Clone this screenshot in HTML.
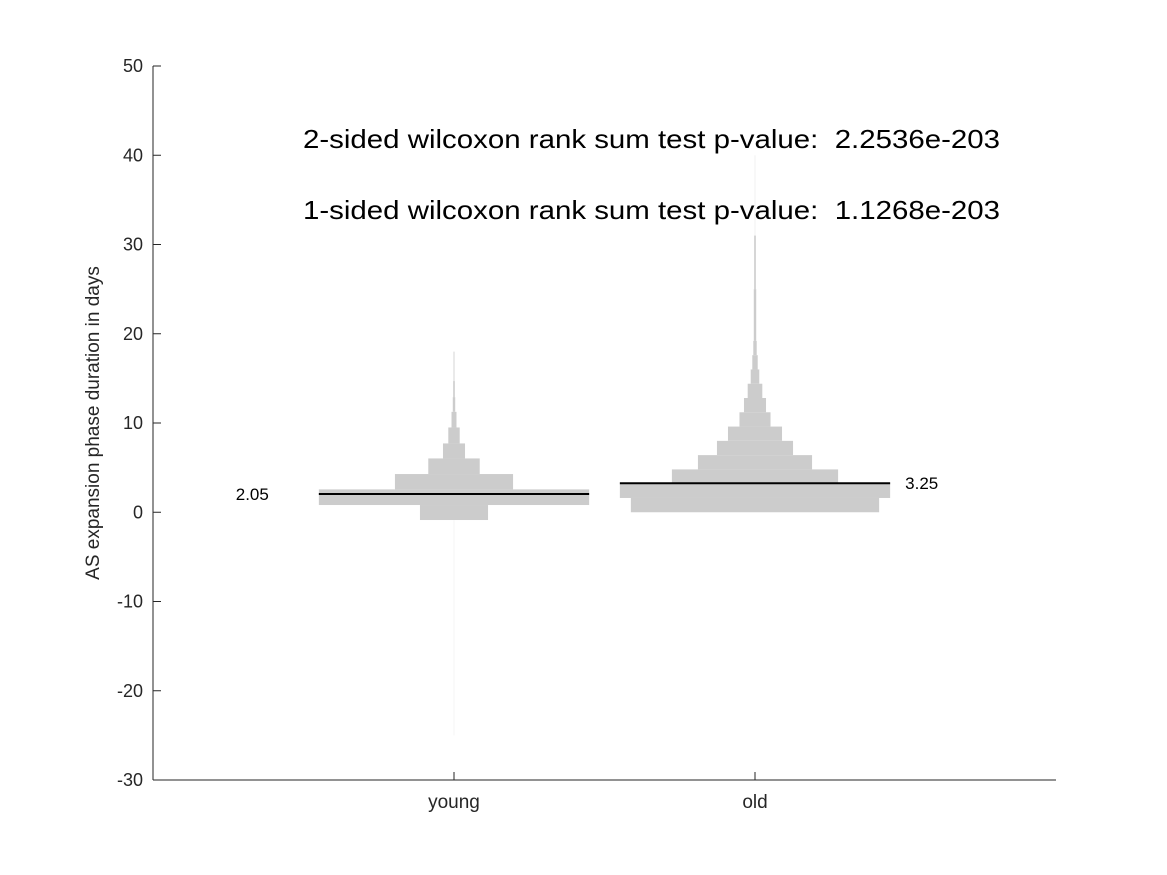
<!DOCTYPE html>
<html><head><meta charset="utf-8"><style>
html,body{margin:0;padding:0;background:#fff;}
svg{display:block;font-family:"Liberation Sans",Helvetica,Arial,sans-serif;}
</style></head><body>
<svg id="chart" width="1167" height="875" viewBox="0 0 1167 875" xmlns="http://www.w3.org/2000/svg">
<rect width="1167" height="875" fill="#fff"/>
<g id="marks"></g>
<g id="axes"></g>
<text x="303" y="148" font-size="26" fill="#000" textLength="697" lengthAdjust="spacingAndGlyphs" style="white-space:pre">2-sided wilcoxon rank sum test p-value:  2.2536e-203</text>
<text x="303" y="219" font-size="26" fill="#000" textLength="697" lengthAdjust="spacingAndGlyphs" style="white-space:pre">1-sided wilcoxon rank sum test p-value:  1.1268e-203</text>
<text transform="translate(99,423) rotate(-90)" text-anchor="middle" font-size="19" fill="#262626">AS expansion phase duration in days</text>
</svg>
<script>
const categories = ["young", "old"];
const medians = [2.05, 3.25];
const medianLabels = ["2.05", "3.25"];
const yTicks = [-30, -20, -10, 0, 10, 20, 30, 40, 50];
// young histogram: bin edges (days) and relative widths
const youngEdges = [-0.87, 0.81, 2.56, 4.28, 6.03, 7.71, 9.5, 11.25, 12.9, 14.7, 18];
const youngWidths = [34, 135, 59, 25.7, 11, 5.7, 2.5, 1.2, 0.8, 0.4];
const youngTailEdges = [-25, -0.87];
const youngTailWidths = [0.3];
// old histogram
const oldEdges = [0, 1.6, 3.2, 4.8, 6.4, 8.0, 9.6, 11.2, 12.8, 14.4, 16.0, 17.6, 19.2, 25, 31];
const oldWidths = [124, 135, 83, 57, 38, 27, 15.5, 11, 7.3, 4.3, 2.7, 1.7, 1.2, 0.8];
const oldTailEdges = [31, 40];
const oldTailWidths = [0.4];

const NS = "http://www.w3.org/2000/svg";
const X0 = 153, X1 = 1056, Y0 = 780, Y1 = 66;
const xMin = 0, xMax = 3, yMin = -30, yMax = 50;
function xs(v){ return X0 + (v - xMin) / (xMax - xMin) * (X1 - X0); }
function ys(v){ return Y0 - (v - yMin) / (yMax - yMin) * (Y0 - Y1); }
const maxW = 135;
function ws(w){ return w / maxW * 0.449 * (X1 - X0) / (xMax - xMin); }
function mk(tag, attrs, parent){
  const e = document.createElementNS(NS, tag);
  for (const k in attrs) e.setAttribute(k, attrs[k]);
  parent.appendChild(e); return e;
}
const marks = document.getElementById('marks');
const axes = document.getElementById('axes');

function drawHist(ci, edges, widths, name, fill){
  const cx = xs(ci + 1);
  for (let i = 0; i < widths.length; i++){
    const hw = ws(widths[i]);
    const yt = ys(edges[i+1]), yb = ys(edges[i]);
    const r = mk('rect', {x: cx - hw, y: yt, width: 2*hw, height: yb - yt, fill: fill}, marks);
    
    
  }
}
drawHist(0, youngTailEdges, youngTailWidths, 'young-tail', '#f0f0f0');
drawHist(0, youngEdges, youngWidths, 'young', '#cccccc');
drawHist(1, oldTailEdges, oldTailWidths, 'old-tail', '#eeeeee');
drawHist(1, oldEdges, oldWidths, 'old', '#cccccc');

// median lines
const medHalf = [ws(135), ws(135)];
for (let i = 0; i < categories.length; i++){
  const cx = xs(i + 1), y = ys(medians[i]);
  const l = mk('line', {x1: cx - medHalf[i], x2: cx + medHalf[i], y1: y, y2: y, stroke: '#000', 'stroke-width': 2}, marks);
  
  
  const t = mk('text', {y: y + 6, 'font-size': 17, fill: '#000'}, marks);
  if (i === 0){ t.setAttribute('x', cx - medHalf[i] - 50); t.setAttribute('text-anchor', 'end'); }
  else { t.setAttribute('x', cx + medHalf[i] + 15); }
  t.textContent = medianLabels[i];
  
  
}

// axes
const ya = mk('line', {x1: X0, x2: X0, y1: Y1, y2: Y0, stroke: '#262626', 'stroke-width': 1}, axes);


const xa = mk('line', {x1: X0, x2: X1, y1: Y0, y2: Y0, stroke: '#262626', 'stroke-width': 1}, axes);


yTicks.forEach(v => {
  const y = ys(v);
  const tk = mk('line', {x1: X0, x2: X0 + 8, y1: y, y2: y, stroke: '#262626'}, axes);
  
  
  const t = mk('text', {x: X0 - 10, y: y + 6, 'text-anchor': 'end', 'font-size': 18, fill: '#262626'}, axes);
  t.textContent = String(v);
  
  
});
categories.forEach((c, i) => {
  const x = xs(i + 1);
  const tk = mk('line', {x1: x, x2: x, y1: Y0, y2: Y0 - 8, stroke: '#262626'}, axes);
  
  
  const t = mk('text', {x: x, y: Y0 + 28, 'text-anchor': 'middle', 'font-size': 19, fill: '#262626'}, axes);
  t.textContent = c;
  
  
});
</script>
</body></html>
